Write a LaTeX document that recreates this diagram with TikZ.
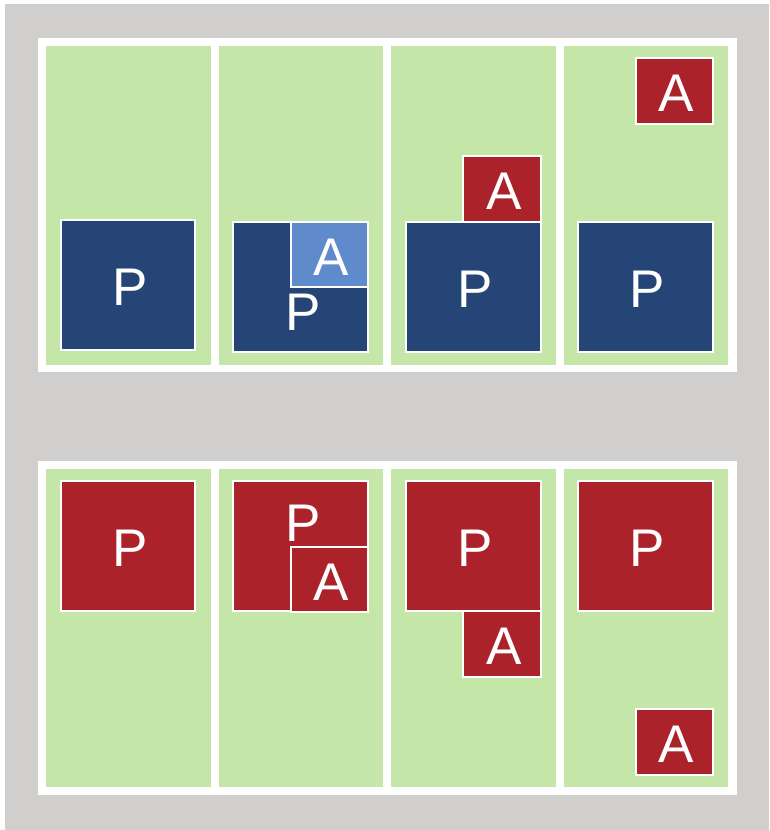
\documentclass[tikz,border=0pt]{standalone}
\usepackage{fontspec}
\setmainfont{Liberation Sans}
\definecolor{bg}{HTML}{D0CFCD}
\definecolor{grn}{HTML}{C5E6A9}
\definecolor{pblue}{HTML}{254576}
\definecolor{lblue}{HTML}{5F8BCD}
\definecolor{pred}{HTML}{AB222A}
\begin{document}
\begin{tikzpicture}[x=1pt,y=-1pt,
  bigfont/.style={font=\fontsize{53}{53}\selectfont},
  box/.style={draw=white,line width=1.7pt,inner sep=0pt,outer sep=0pt,text=white,bigfont,anchor=north west,
    text height=41pt,execute at begin node={\hspace*{4pt}}},
  pbox/.style={box,minimum width=134pt,minimum height=130pt},
  abox/.style={box,minimum width=77pt,minimum height=66pt},
  lbl/.style={inner sep=0pt,text=white,bigfont},
  col/.style={fill=grn}]
\useasboundingbox (0,0) rectangle (769,830);
\fill[white] (0,0) rectangle (769,830);
\fill[bg] (5,4) rectangle (769,830);
% panels
\fill[white] (38,38) rectangle (737,372);
\fill[white] (38,461) rectangle (737,795);
\foreach \x in {46,218.5,391,563.5}{
  \fill[col] (\x,46) rectangle ++(164.5,319);
  \fill[col] (\x,469) rectangle ++(164.5,318);
}
% top row
\node[pbox,fill=pblue] (p1) at (61,220) {P};
\node[pbox,fill=pblue,minimum width=135pt] (p2) at (233,222) {};
\node[abox,fill=lblue,minimum height=65pt] (a2) at (291,222) {A};
\node[lbl] (p2l) at (303,312) {P};
\node[pbox,fill=pblue,minimum width=135pt] (p3) at (406,222) {P};
\node[abox,fill=pred,minimum width=78pt] (a3) at (463,156) {A};
\node[pbox,fill=pblue,minimum width=135pt] (p4) at (578,222) {P};
\node[abox,fill=pred] (a4) at (636,58) {A};
% bottom row
\node[pbox,fill=pred] (q1) at (61,481) {P};
\node[pbox,fill=pred,minimum width=135pt] (q2) at (233,481) {};
\node[abox,fill=pred,minimum height=65pt] (b2) at (291,547) {A};
\node[lbl] (q2l) at (303,523) {P};
\node[pbox,fill=pred,minimum width=135pt] (q3) at (406,481) {P};
\node[abox,fill=pred,minimum width=78pt] (b3) at (463,611) {A};
\node[pbox,fill=pred,minimum width=135pt] (q4) at (578,481) {P};
\node[abox,fill=pred] (b4) at (636,709) {A};
\end{tikzpicture}
\end{document}
